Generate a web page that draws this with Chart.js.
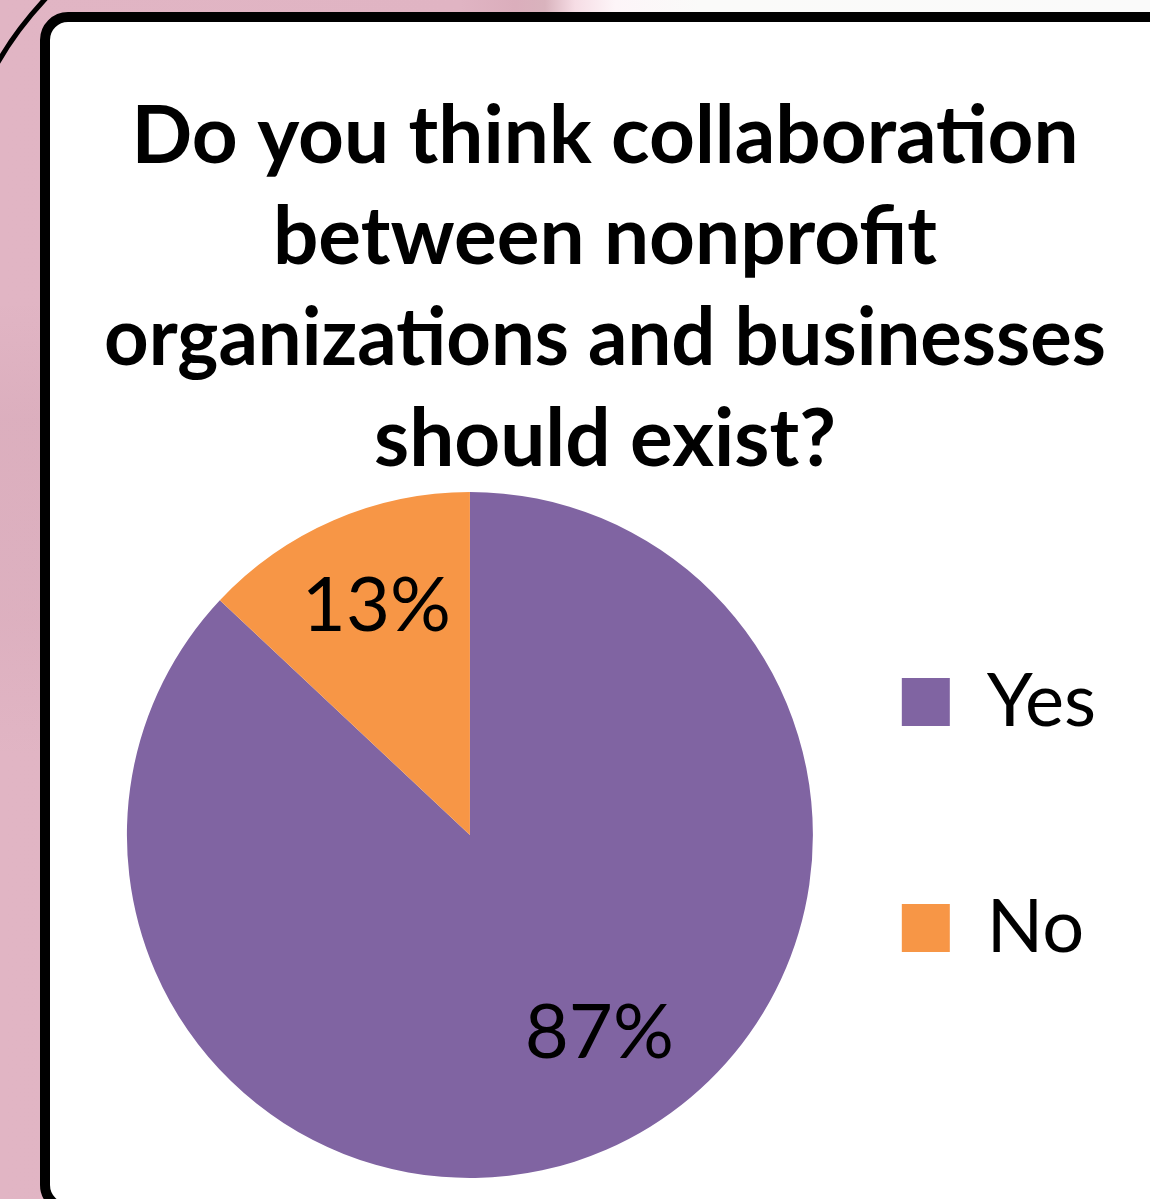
<!DOCTYPE html>
<html>
<head>
<meta charset="utf-8">
<script src="https://cdn.jsdelivr.net/npm/chart.js@4.4.1/dist/chart.umd.min.js"></script>
<style>
  html, body { margin: 0; padding: 0; width: 1150px; height: 1199px; overflow: hidden; }
  body {
    position: relative;
    background: linear-gradient(to right, #e1b5c4 0px, #e0b4c3 460px, #dbaebc 515px, #d9b3bd 545px, #f6dde5 575px, #fdf5f8 615px, #fafaf9 700px, #fafafa 1150px);
  }
  #shade {
    position: absolute; left: 0; top: 0; width: 40px; height: 1199px;
    background: linear-gradient(to bottom, rgba(0,0,0,0) 300px, rgba(120,60,80,0.05) 420px, rgba(120,60,80,0.04) 620px, rgba(0,0,0,0) 760px);
  }
  #curve { position: absolute; left: 0; top: 0; }
  #card {
    position: absolute; left: 40px; top: 12px; width: 1200px; height: 1201px;
    box-sizing: border-box; border: 10px solid #000; border-radius: 28px; background: #fff;
  }
  #chart { position: absolute; left: 0; top: 0; }
</style>
</head>
<body>
<div id="shade"></div>
<svg id="curve" width="60" height="70"><path d="M -3 64 Q 16 30 47 -3" fill="none" stroke="#000" stroke-width="5"/></svg>
<div id="card"></div>
<canvas id="chart" width="1150" height="1199"></canvas>
<script>
// Survey answers
const answerLabels = ['Yes', 'No'];
const answerShares = [87, 13];
const answerColors = ['#8064A2', '#F79646'];
const titleLines = [
  'Do you think collaboration',
  'between nonprofit',
  'organizations and businesses',
  'should exist?'
];

// Percentage text inside each slice, placed along the slice's middle angle
const sliceLabels = {
  id: 'sliceLabels',
  afterDatasetsDraw(chart, args, opts) {
    const meta = chart.getDatasetMeta(0);
    const values = chart.data.datasets[0].data;
    const ctx = chart.ctx;
    ctx.save();
    ctx.font = opts.font;
    ctx.fillStyle = opts.color;
    ctx.textAlign = 'center';
    ctx.textBaseline = 'middle';
    meta.data.forEach((arc, i) => {
      const p = arc.getProps(['x', 'y', 'startAngle', 'endAngle', 'outerRadius'], true);
      const mid = (p.startAngle + p.endAngle) / 2 + (opts.angleShift[i] || 0);
      const r = p.outerRadius * opts.radiusFactor[i];
      ctx.fillText(values[i] + '%', p.x + Math.cos(mid) * r, p.y + Math.sin(mid) * r);
    });
    ctx.restore();
  }
};

// Pie legend entries, written as one-line text blocks so the font's line
// height sets the gap between "Yes" and "No"
const pieLegendLabels = Chart.overrides.pie.plugins.legend.labels.generateLabels;

new Chart(document.getElementById('chart'), {
  type: 'pie',
  data: {
    labels: answerLabels,
    datasets: [{
      data: answerShares,
      backgroundColor: answerColors,
      borderWidth: 0,
      radius: 343,
      clip: false
    }]
  },
  options: {
    responsive: false,
    animation: false,
    events: [],
    layout: { padding: { left: 104, right: 44, top: 0, bottom: 82 } },
    plugins: {
      title: {
        display: true,
        text: titleLines,
        color: '#000',
        font: { family: 'Lato', weight: 'bold', size: 80, lineHeight: '101px' },
        padding: { top: 87, bottom: 62 }
      },
      legend: {
        display: true,
        position: 'right',
        fullSize: true,
        align: 'end',
        labels: {
          boxWidth: 48,
          boxHeight: 48,
          padding: 66,
          color: '#000',
          font: { family: 'Lato', size: 74, lineHeight: '160px' },
          generateLabels(chart) {
            return pieLegendLabels(chart).map(item => Object.assign(item, { text: [item.text] }));
          }
        }
      },
      tooltip: { enabled: false },
      sliceLabels: {
        font: '76px Lato',
        color: '#000',
        radiusFactor: [0.69, 0.72],
        angleShift: [-0.17, 0.02]
      }
    }
  },
  plugins: [sliceLabels]
});
</script>
</body>
</html>
